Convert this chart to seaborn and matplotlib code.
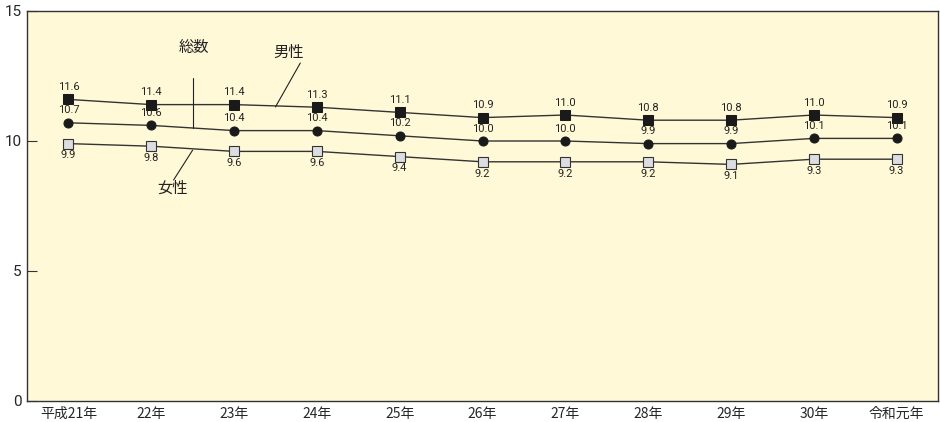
import numpy as np
import pandas as pd
import matplotlib
matplotlib.use("Agg")
import matplotlib.pyplot as plt
import seaborn as sns

# data
years = ["平成21年", "22年", "23年", "24年", "25年", "26年", "27年", "28年", "29年", "30年", "令和元年"]
male = [11.6, 11.4, 11.4, 11.3, 11.1, 10.9, 11.0, 10.8, 10.8, 11.0, 10.9]
total = [10.7, 10.6, 10.4, 10.4, 10.2, 10.0, 10.0, 9.9, 9.9, 10.1, 10.1]
female = [9.9, 9.8, 9.6, 9.6, 9.4, 9.2, 9.2, 9.2, 9.1, 9.3, 9.3]

sns.set_style("white")
plt.rcParams['font.family'] = ['Noto Sans CJK JP', 'DejaVu Sans']
num_font = ['Roboto', 'DejaVu Sans']

pos = np.arange(len(years))
df = pd.DataFrame({"pos": pos, "male": male, "total": total, "female": female})

fig = plt.figure(figsize=(9.4, 4.22), dpi=100)
ax = fig.add_axes([27 / 940, 21 / 422, 911 / 940, 390 / 422])
ax.set_facecolor("#fff9d8")

line_col = "#333333"
styles = {
    "male": dict(marker="s", markersize=7, markerfacecolor="#1a1a1a", markeredgecolor="#1a1a1a"),
    "total": dict(marker="o", markersize=6.5, markerfacecolor="#1a1a1a", markeredgecolor="#1a1a1a"),
    "female": dict(marker="s", markersize=7, markerfacecolor="#dcdde0", markeredgecolor="#333333",
                   markeredgewidth=0.8),
}
for col in ["male", "total", "female"]:
    sns.lineplot(data=df, x="pos", y=col, ax=ax, color=line_col, linewidth=1.0, **styles[col])

# value labels
for i in pos:
    ax.annotate(f"{male[i]:.1f}", (i, male[i]), xytext=(0, 9), textcoords="offset points",
                ha="center", va="center", fontsize=8, color="#222222", family=num_font)
    ax.annotate(f"{total[i]:.1f}", (i, total[i]), xytext=(0, 9), textcoords="offset points",
                ha="center", va="center", fontsize=8, color="#222222", family=num_font)
    ax.annotate(f"{female[i]:.1f}", (i, female[i]), xytext=(0, -8.5), textcoords="offset points",
                ha="center", va="center", fontsize=8, color="#222222", family=num_font)

# series labels with leader lines
ax.plot([2.50, 2.80], [11.31, 13.0], color="#222222", lw=0.8)
ax.text(2.66, 13.42, "男性", ha="center", va="center", fontsize=11, color="#222222")
ax.plot([1.50, 1.50], [10.5, 12.42], color="#222222", lw=0.8)
ax.text(1.51, 13.6, "総数", ha="center", va="center", fontsize=11, color="#222222")
ax.plot([1.50, 1.27], [9.65, 8.5], color="#222222", lw=0.8)
ax.text(1.256, 8.2, "女性", ha="center", va="center", fontsize=11, color="#222222")

ax.set_xlim(-0.5, len(years) - 0.5)
ax.set_ylim(0, 15)
ax.set_xticks(pos)
ax.set_xticklabels(years, fontsize=10)
ax.set_xticks(pos[:-1] + 0.5, minor=True)
ax.tick_params(axis="x", which="major", length=0, pad=4)
ax.tick_params(axis="x", which="minor", length=4, direction="in", color="#333333")
ax.set_yticks([0, 5, 10, 15])
ax.set_yticklabels(["0", "5", "10", "15"], fontsize=11, family=num_font)
ax.tick_params(axis="y", length=7, direction="in", color="#333333", pad=4, left=True)
ax.set_xlabel("")
ax.set_ylabel("")
for s in ax.spines.values():
    s.set_visible(True)
    s.set_color("#333333")
    s.set_linewidth(1.0)

fig.savefig("out.png", dpi=100, facecolor="white")
